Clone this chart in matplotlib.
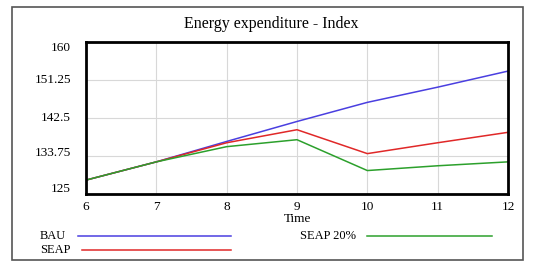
import matplotlib
matplotlib.use("Agg")
import matplotlib.pyplot as plt
from matplotlib.lines import Line2D
from matplotlib.patches import Rectangle
from matplotlib.transforms import blended_transform_factory, offset_copy

time = [6, 7, 8, 9, 10, 11, 12]
bau = [128.2, 132.4, 137.1, 141.7, 146.1, 149.6, 153.3]
seap = [128.2, 132.4, 136.8, 139.8, 134.3, 136.8, 139.2]
seap20 = [128.2, 132.4, 135.9, 137.5, 130.4, 131.5, 132.4]
yticks = [125, 133.75, 142.5, 151.25, 160]
ytick_labels = ["125", "133.75", "142.5", "151.25", "160"]
series = [("BAU", bau, "#4a3fe0"), ("SEAP", seap, "#e02828"), ("SEAP 20%", seap20, "#2ca02c")]

plt.rcParams['font.family'] = ['Liberation Serif', 'DejaVu Serif']
W, H = 535, 264
fig = plt.figure(figsize=(W / 100, H / 100), dpi=100)
fig.patch.set_facecolor("white")

def fx(x):
    return x / W

def fy(y):
    return 1 - y / H

# outer frame
fig.patches.append(Rectangle((fx(12), fy(260)), fx(523) - fx(12), fy(7) - fy(260),
                             transform=fig.transFigure, fill=False, edgecolor="#555555", lw=1.2))

ax = fig.add_axes([fx(86), fy(194), fx(508) - fx(86), fy(42) - fy(194)])
for name, vals, col in series:
    ax.plot(time, vals, color=col, lw=1.1)
ax.set_xlim(6, 12)
ax.set_ylim(125, 160)
ax.set_xticks(time)
ax.set_xticklabels([str(t) for t in time], fontsize=9.5)
ax.set_yticks(yticks)
ax.set_yticklabels([])
ax.tick_params(length=0, pad=5)
ax.grid(True, color="#d8d8d8", lw=0.8)
for s in ax.spines.values():
    s.set_linewidth(2)
    s.set_color("black")
ax.set_xlabel("Time", fontsize=9.5, labelpad=0)

# y tick labels, Vensim-style vertical placement
trans = blended_transform_factory(ax.transAxes, ax.transData)
label_offsets_px = [5, 3, 0, 0, -6]
for v, lab, dy in zip(yticks, ytick_labels, label_offsets_px):
    t = offset_copy(trans, fig=fig, x=-15, y=dy, units="dots")
    ax.text(0, v, lab, transform=t, ha="right", va="center", fontsize=9.5)

fig.text(fx(271), fy(24), "Energy expenditure - Index", ha="center", va="center", fontsize=11.5)

legend = [("BAU", 40, 236, 78, 231, series[0][2]),
          ("SEAP", 40, 250, 82, 231, series[1][2]),
          ("SEAP 20%", 300, 236, 367, 492, series[2][2])]
for name, tx, ty, x0, x1, col in legend:
    fig.text(fx(tx), fy(ty), name, ha="left", va="center", fontsize=9)
    fig.add_artist(Line2D([fx(x0), fx(x1)], [fy(ty), fy(ty)], transform=fig.transFigure, color=col, lw=1.1))

fig.savefig("out.png", dpi=100)
